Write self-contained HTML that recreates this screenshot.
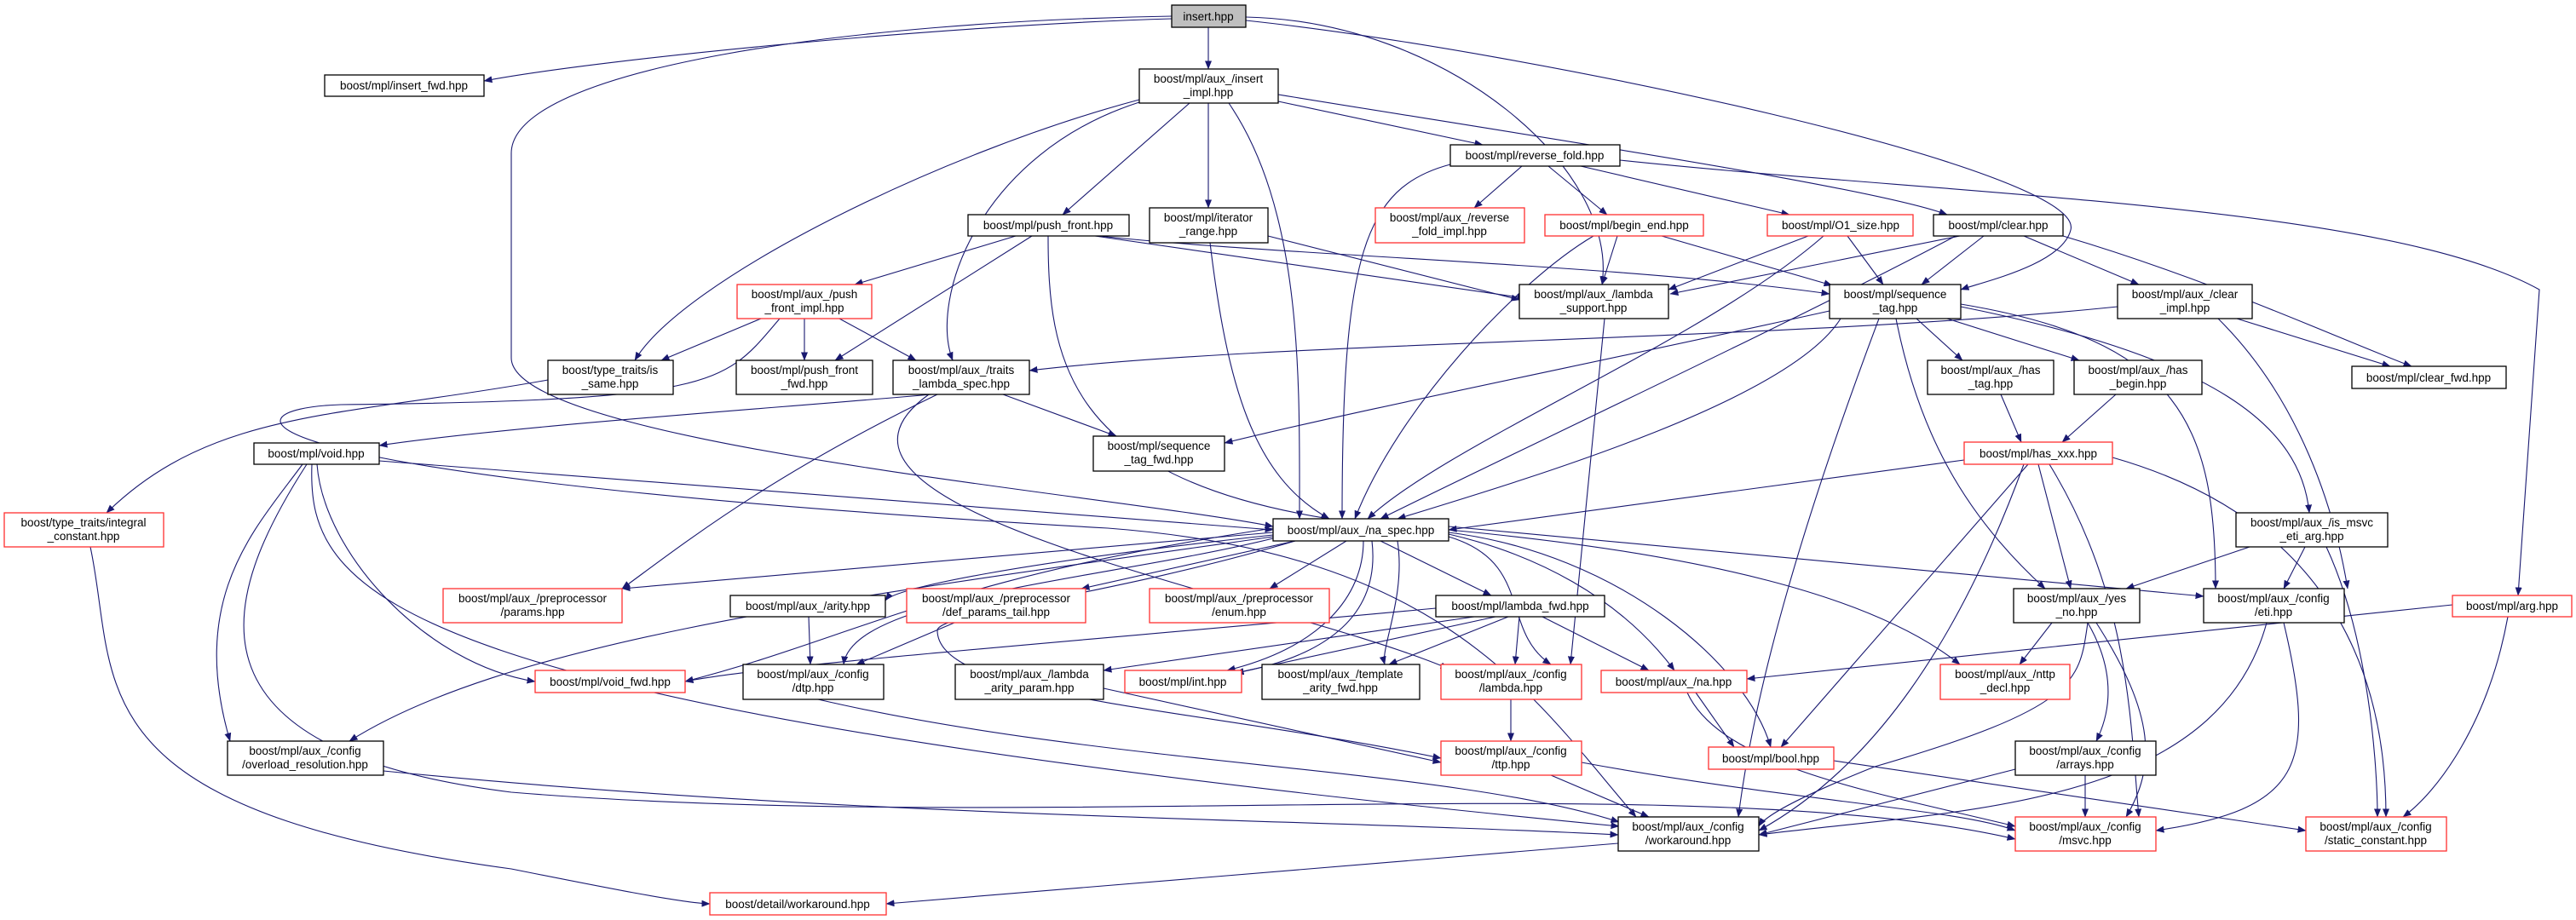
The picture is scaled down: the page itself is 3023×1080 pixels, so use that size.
<!DOCTYPE html>
<html><head><meta charset="utf-8"><style>
html,body{margin:0;padding:0;background:#fff;}
svg{display:block;}
text{font-family:"Liberation Sans","DejaVu Sans",sans-serif;font-size:13.5px;fill:#000;text-anchor:middle;}
.n{fill:#fff;stroke:#000;stroke-width:1.3;}
.r{fill:#fff;stroke:#ff3030;stroke-width:1.3;}
.e{fill:none;stroke:#191970;stroke-width:1.1;marker-end:url(#a);}
</style></head><body>
<svg width="3023" height="1080" viewBox="0 0 3023 1080" xmlns="http://www.w3.org/2000/svg">
<defs><marker id="a" markerWidth="10" markerHeight="8" refX="9.5" refY="4" orient="auto" markerUnits="userSpaceOnUse"><path d="M0,0 L10,4 L0,8 z" fill="#191970"/></marker></defs>
<g>
<!-- insert.hpp -->
<path class="e" d="M1375,22 C1100,30 700,70 568,95"/>
<path class="e" d="M1418,32 L1418,81"/>
<path class="e" d="M1375,19 C1000,25 600,80 600,180 L600,420 C600,520 1300,580 1494,618"/>
<path class="e" d="M1462,20 C1700,25 1900,200 1880,334"/>
<path class="e" d="M1462,24 C1800,60 2450,200 2430,270 C2420,310 2330,330 2301,340"/>
<!-- insert_impl -->
<path class="e" d="M1396,121 L1247,252"/>
<path class="e" d="M1418,121 L1418,244"/>
<path class="e" d="M1500,119 L1740,170"/>
<path class="e" d="M1500,111 C1800,160 2200,220 2285,252"/>
<path class="e" d="M1337,117 C1100,180 800,330 745,423"/>
<path class="e" d="M1337,120 C1150,180 1090,350 1118,423"/>
<path class="e" d="M1442,121 C1530,250 1525,450 1525,609"/>
<!-- reverse_fold -->
<path class="e" d="M1786,195 L1730,244"/>
<path class="e" d="M1817,195 L1886,252"/>
<path class="e" d="M1855,195 L2100,252"/>
<path class="e" d="M1702,193 C1600,220 1575,300 1575,609"/>
<path class="e" d="M1901,188 C2300,230 2800,240 2980,340 L2955,699"/>
<!-- push_front -->
<path class="e" d="M1192,277 L1003,334"/>
<path class="e" d="M1211,277 L980,423"/>
<path class="e" d="M1230,277 C1230,420 1250,560 1560,609"/>
<path class="e" d="M1285,277 L1790,350"/>
<path class="e" d="M1290,277 C1500,300 1900,310 2147,345"/>
<!-- iterator_range -->
<path class="e" d="M1488,277 L1783,352"/>
<path class="e" d="M1420,285 C1440,450 1470,560 1560,609"/>
<!-- begin_end -->
<path class="e" d="M1898,277 L1880,334"/>
<path class="e" d="M1950,277 L2150,335"/>
<path class="e" d="M1870,277 C1780,330 1640,480 1590,609"/>
<!-- O1_size -->
<path class="e" d="M2168,277 L2210,334"/>
<path class="e" d="M2122,277 L1958,340"/>
<path class="e" d="M2140,277 C2000,400 1700,520 1605,609"/>
<!-- clear -->
<path class="e" d="M2300,277 L1960,345"/>
<path class="e" d="M2328,277 L2255,334"/>
<path class="e" d="M2375,277 L2510,334"/>
<path class="e" d="M2421,277 C2600,330 2750,400 2830,430"/>
<path class="e" d="M2295,277 C2100,380 1800,520 1620,609"/>
<!-- push_front_impl -->
<path class="e" d="M893,374 L776,423"/>
<path class="e" d="M944,374 L944,423"/>
<path class="e" d="M985,374 L1075,423"/>
<path class="e" d="M915,374 C850,450 850,470 400,475 C250,480 250,560 1300,620 C1700,650 1800,820 1920,959"/>
<!-- lambda_support -->
<path class="e" d="M1883,374 L1843,780"/>
<!-- sequence_tag -->
<path class="e" d="M2147,365 C1900,420 1600,480 1437,520"/>
<path class="e" d="M2249,374 L2303,423"/>
<path class="e" d="M2285,374 L2440,423"/>
<path class="e" d="M2160,374 C2100,470 1800,560 1640,609"/>
<path class="e" d="M2205,374 C2120,600 2060,800 2040,959"/>
<path class="e" d="M2225,374 C2250,500 2300,600 2400,691"/>
<path class="e" d="M2301,357 C2560,400 2600,500 2600,691"/>
<path class="e" d="M2301,360 C2600,420 2700,500 2710,602"/>
<!-- clear_impl -->
<path class="e" d="M2485,360 C2100,400 1500,400 1208,435"/>
<path class="e" d="M2625,374 L2805,430"/>
<path class="e" d="M2603,374 C2700,470 2740,600 2755,691"/>
<!-- is_same, traits -->
<path class="e" d="M643,446 C400,490 250,480 125,602"/>
<path class="e" d="M1093,463 C900,480 600,500 445,523"/>
<path class="e" d="M1177,463 L1310,512"/>
<path class="e" d="M1100,463 C900,560 800,640 730,691"/>
<path class="e" d="M1090,463 C900,600 1500,700 1700,785"/>
<!-- has -->
<path class="e" d="M2348,463 L2372,519"/>
<path class="e" d="M2483,463 L2420,519"/>
<!-- has_xxx -->
<path class="e" d="M2305,540 L1700,622"/>
<path class="e" d="M2392,545 L2430,691"/>
<path class="e" d="M2380,545 L2090,877"/>
<path class="e" d="M2375,545 C2300,750 2200,900 2064,975"/>
<path class="e" d="M2405,545 C2500,700 2500,850 2510,959"/>
<path class="e" d="M2479,537 C2700,600 2800,750 2800,959"/>
<!-- void -->
<path class="e" d="M445,541 L1494,622"/>
<path class="e" d="M372,545 C380,650 500,780 628,800"/>
<path class="e" d="M366,545 C360,700 450,830 1900,970"/>
<path class="e" d="M360,545 C260,700 200,880 600,930 C1200,980 2000,900 2365,985"/>
<path class="e" d="M355,545 C300,620 220,700 270,870"/>
<!-- integral_constant -->
<path class="e" d="M106,642 C140,800 80,950 600,1020 C700,1040 800,1060 833,1061"/>
<!-- na_spec -->
<path class="e" d="M1494,625 L730,691"/>
<path class="e" d="M1494,628 C1200,660 1050,690 1039,705"/>
<path class="e" d="M1520,635 L1269,691"/>
<path class="e" d="M1580,635 L1490,691"/>
<path class="e" d="M1620,635 L1750,699"/>
<path class="e" d="M1494,632 C1300,680 1000,700 990,780"/>
<path class="e" d="M1600,635 C1600,700 1550,760 1440,787"/>
<path class="e" d="M1610,635 C1620,720 1560,770 1450,790"/>
<path class="e" d="M1640,635 C1650,700 1620,760 1625,780"/>
<path class="e" d="M1700,630 C1800,660 1760,740 1820,780"/>
<path class="e" d="M1700,627 C1800,650 1900,700 1965,787"/>
<path class="e" d="M1700,625 C1900,650 2050,780 2078,877"/>
<path class="e" d="M1700,622 C2000,650 2200,700 2300,780"/>
<path class="e" d="M1700,618 L2586,700"/>
<path class="e" d="M1494,630 C1000,700 600,750 410,870"/>
<path class="e" d="M1520,635 C1300,700 1100,720 1100,740 C1100,820 1400,830 1691,890"/>
<path class="e" d="M1494,620 C1100,680 1000,750 804,800"/>
<!-- is_msvc -->
<path class="e" d="M2640,642 L2495,691"/>
<path class="e" d="M2705,642 L2680,691"/>
<path class="e" d="M2730,642 C2780,750 2790,900 2790,959"/>
<!-- arg -->
<path class="e" d="M2878,710 L2050,797"/>
<path class="e" d="M2943,724 C2920,850 2860,930 2820,959"/>
<!-- lambda_fwd -->
<path class="e" d="M1685,714 C1300,750 900,780 804,800"/>
<path class="e" d="M1730,724 L1295,787"/>
<path class="e" d="M1755,724 L1450,790"/>
<path class="e" d="M1770,724 L1630,780"/>
<path class="e" d="M1783,724 L1778,780"/>
<path class="e" d="M1810,724 L1935,787"/>
<!-- arity, def_params_tail -->
<path class="e" d="M949,724 L951,780"/>
<path class="e" d="M1120,731 L1005,780"/>
<!-- yes_no -->
<path class="e" d="M2408,731 L2370,780"/>
<path class="e" d="M2450,731 C2490,800 2470,850 2460,870"/>
<path class="e" d="M2450,731 C2440,800 2440,830 2200,900 C2100,940 2070,960 2064,970"/>
<path class="e" d="M2460,731 C2530,840 2530,900 2495,959"/>
<!-- eti -->
<path class="e" d="M2660,731 C2600,950 2300,950 2064,980"/>
<path class="e" d="M2680,731 C2720,900 2700,950 2530,975"/>
<!-- lower -->
<path class="e" d="M960,821 C1300,900 1700,900 1900,965"/>
<path class="e" d="M1295,808 L1691,895"/>
<path class="e" d="M1773,821 L1773,870"/>
<path class="e" d="M1820,910 L1935,959"/>
<path class="e" d="M1856,895 C2100,940 2300,950 2365,975"/>
<path class="e" d="M1980,813 C2020,900 2200,930 2365,970"/>
<path class="e" d="M1990,813 L2035,877"/>
<path class="e" d="M2152,893 L2706,975"/>
<path class="e" d="M2447,910 L2447,959"/>
<path class="e" d="M2365,903 L2064,980"/>
<path class="e" d="M450,905 C1000,960 1500,960 1899,980"/>
<path class="e" d="M1899,990 L1040,1061"/>
</g>
<g>
<rect x="1375" y="6" width="87" height="26" fill="#bfbfbf" stroke="#000" stroke-width="1.3"/><text x="1418" y="24">insert.hpp</text>
<rect class="n" x="381" y="88" width="187" height="25"/><text x="474" y="105">boost/mpl/insert_fwd.hpp</text>
<rect class="n" x="1337" y="81" width="163" height="40"/><text x="1418" y="97">boost/mpl/aux_/insert</text><text x="1418" y="113">_impl.hpp</text>
<rect class="n" x="1702" y="170" width="199" height="25"/><text x="1801" y="187">boost/mpl/reverse_fold.hpp</text>
<rect class="n" x="1136" y="252" width="189" height="25"/><text x="1230" y="269">boost/mpl/push_front.hpp</text>
<rect class="n" x="1349" y="244" width="139" height="41"/><text x="1418" y="260">boost/mpl/iterator</text><text x="1418" y="276">_range.hpp</text>
<rect class="r" x="1614" y="244" width="175" height="41"/><text x="1701" y="260">boost/mpl/aux_/reverse</text><text x="1701" y="276">_fold_impl.hpp</text>
<rect class="r" x="1813" y="252" width="186" height="25"/><text x="1906" y="269">boost/mpl/begin_end.hpp</text>
<rect class="r" x="2074" y="252" width="171" height="25"/><text x="2160" y="269">boost/mpl/O1_size.hpp</text>
<rect class="n" x="2269" y="252" width="152" height="25"/><text x="2345" y="269">boost/mpl/clear.hpp</text>
<rect class="r" x="865" y="334" width="158" height="40"/><text x="944" y="350">boost/mpl/aux_/push</text><text x="944" y="366">_front_impl.hpp</text>
<rect class="n" x="1783" y="334" width="175" height="40"/><text x="1870" y="350">boost/mpl/aux_/lambda</text><text x="1870" y="366">_support.hpp</text>
<rect class="n" x="2147" y="334" width="154" height="40"/><text x="2224" y="350">boost/mpl/sequence</text><text x="2224" y="366">_tag.hpp</text>
<rect class="n" x="2485" y="334" width="158" height="40"/><text x="2564" y="350">boost/mpl/aux_/clear</text><text x="2564" y="366">_impl.hpp</text>
<rect class="n" x="643" y="423" width="147" height="40"/><text x="716" y="439">boost/type_traits/is</text><text x="716" y="455">_same.hpp</text>
<rect class="n" x="864" y="423" width="160" height="40"/><text x="944" y="439">boost/mpl/push_front</text><text x="944" y="455">_fwd.hpp</text>
<rect class="n" x="1048" y="423" width="160" height="40"/><text x="1128" y="439">boost/mpl/aux_/traits</text><text x="1128" y="455">_lambda_spec.hpp</text>
<rect class="n" x="2262" y="423" width="148" height="40"/><text x="2336" y="439">boost/mpl/aux_/has</text><text x="2336" y="455">_tag.hpp</text>
<rect class="n" x="2434" y="423" width="150" height="40"/><text x="2509" y="439">boost/mpl/aux_/has</text><text x="2509" y="455">_begin.hpp</text>
<rect class="n" x="2760" y="430" width="181" height="26"/><text x="2850" y="448">boost/mpl/clear_fwd.hpp</text>
<rect class="n" x="1283" y="512" width="154" height="41"/><text x="1360" y="528">boost/mpl/sequence</text><text x="1360" y="544">_tag_fwd.hpp</text>
<rect class="n" x="298" y="520" width="147" height="25"/><text x="371" y="537">boost/mpl/void.hpp</text>
<rect class="r" x="2305" y="519" width="174" height="26"/><text x="2392" y="537">boost/mpl/has_xxx.hpp</text>
<rect class="r" x="5" y="602" width="187" height="40"/><text x="98" y="618">boost/type_traits/integral</text><text x="98" y="634">_constant.hpp</text>
<rect class="n" x="2624" y="602" width="178" height="40"/><text x="2713" y="618">boost/mpl/aux_/is_msvc</text><text x="2713" y="634">_eti_arg.hpp</text>
<rect class="n" x="1494" y="609" width="206" height="26"/><text x="1597" y="627">boost/mpl/aux_/na_spec.hpp</text>
<rect class="r" x="520" y="691" width="210" height="40"/><text x="625" y="707">boost/mpl/aux_/preprocessor</text><text x="625" y="723">/params.hpp</text>
<rect class="r" x="1064" y="691" width="210" height="40"/><text x="1169" y="707">boost/mpl/aux_/preprocessor</text><text x="1169" y="723">/def_params_tail.hpp</text>
<rect class="r" x="1349" y="691" width="211" height="40"/><text x="1454" y="707">boost/mpl/aux_/preprocessor</text><text x="1454" y="723">/enum.hpp</text>
<rect class="n" x="857" y="699" width="182" height="25"/><text x="948" y="716">boost/mpl/aux_/arity.hpp</text>
<rect class="n" x="1685" y="699" width="198" height="25"/><text x="1784" y="716">boost/mpl/lambda_fwd.hpp</text>
<rect class="n" x="2363" y="691" width="148" height="40"/><text x="2437" y="707">boost/mpl/aux_/yes</text><text x="2437" y="723">_no.hpp</text>
<rect class="n" x="2586" y="691" width="165" height="40"/><text x="2668" y="707">boost/mpl/aux_/config</text><text x="2668" y="723">/eti.hpp</text>
<rect class="r" x="2878" y="699" width="140" height="25"/><text x="2948" y="716">boost/mpl/arg.hpp</text>
<rect class="r" x="628" y="787" width="176" height="26"/><text x="716" y="805">boost/mpl/void_fwd.hpp</text>
<rect class="n" x="872" y="780" width="165" height="41"/><text x="954" y="796">boost/mpl/aux_/config</text><text x="954" y="812">/dtp.hpp</text>
<rect class="n" x="1121" y="780" width="174" height="41"/><text x="1208" y="796">boost/mpl/aux_/lambda</text><text x="1208" y="812">_arity_param.hpp</text>
<rect class="r" x="1320" y="787" width="137" height="26"/><text x="1388" y="805">boost/mpl/int.hpp</text>
<rect class="n" x="1481" y="780" width="185" height="41"/><text x="1573" y="796">boost/mpl/aux_/template</text><text x="1573" y="812">_arity_fwd.hpp</text>
<rect class="r" x="1691" y="780" width="165" height="41"/><text x="1773" y="796">boost/mpl/aux_/config</text><text x="1773" y="812">/lambda.hpp</text>
<rect class="r" x="1879" y="787" width="171" height="26"/><text x="1964" y="805">boost/mpl/aux_/na.hpp</text>
<rect class="r" x="2277" y="780" width="152" height="41"/><text x="2353" y="796">boost/mpl/aux_/nttp</text><text x="2353" y="812">_decl.hpp</text>
<rect class="n" x="267" y="870" width="183" height="40"/><text x="358" y="886">boost/mpl/aux_/config</text><text x="358" y="902">/overload_resolution.hpp</text>
<rect class="r" x="1691" y="870" width="165" height="40"/><text x="1773" y="886">boost/mpl/aux_/config</text><text x="1773" y="902">/ttp.hpp</text>
<rect class="r" x="2005" y="877" width="147" height="26"/><text x="2078" y="895">boost/mpl/bool.hpp</text>
<rect class="n" x="2365" y="870" width="165" height="40"/><text x="2447" y="886">boost/mpl/aux_/config</text><text x="2447" y="902">/arrays.hpp</text>
<rect class="n" x="1899" y="959" width="165" height="40"/><text x="1981" y="975">boost/mpl/aux_/config</text><text x="1981" y="991">/workaround.hpp</text>
<rect class="r" x="2365" y="959" width="165" height="40"/><text x="2447" y="975">boost/mpl/aux_/config</text><text x="2447" y="991">/msvc.hpp</text>
<rect class="r" x="2706" y="959" width="165" height="40"/><text x="2788" y="975">boost/mpl/aux_/config</text><text x="2788" y="991">/static_constant.hpp</text>
<rect class="r" x="833" y="1048" width="207" height="26"/><text x="936" y="1066">boost/detail/workaround.hpp</text>
</g>
</svg>
</body></html>
